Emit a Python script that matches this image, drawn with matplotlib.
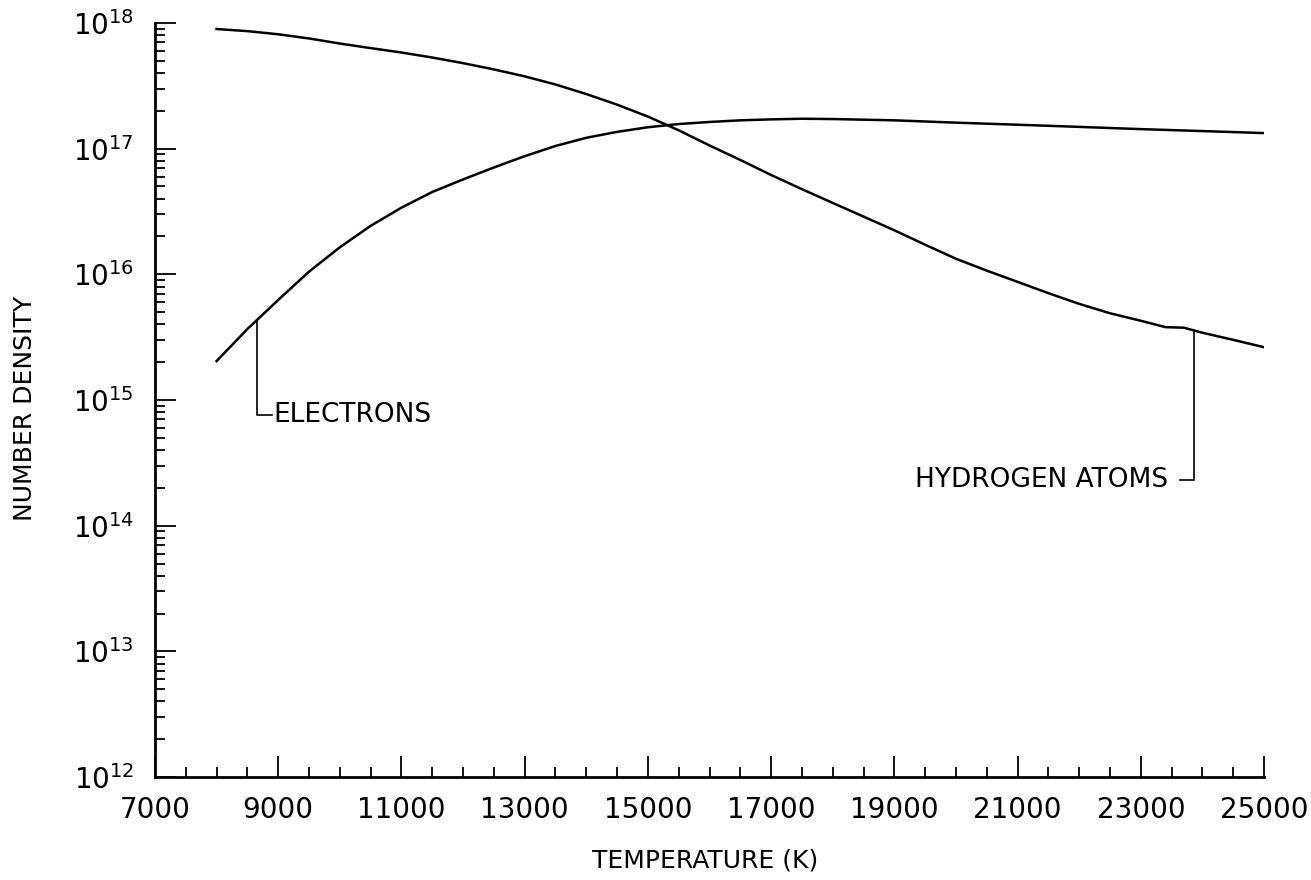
import numpy as np
import matplotlib
matplotlib.use("Agg")
import matplotlib.pyplot as plt
from matplotlib.ticker import FixedLocator, MultipleLocator, LogLocator, NullFormatter

plt.rcParams['font.family'] = ['DejaVu Sans']
plt.rcParams['mathtext.fontset'] = 'dejavusans'

# number densities (per unit volume) against temperature
temp_e = [8000, 8500, 9000, 9500, 10000, 10500, 11000, 11500, 12000, 12500,
          13000, 13500, 14000, 14500, 15000, 15500, 16000, 16500, 17000, 17500,
          18000, 19000, 20000, 21000, 22000, 23000, 24000, 25000]
n_electrons = [2.04e15, 3.67e15, 6.25e15, 1.05e16, 1.64e16, 2.43e16, 3.39e16,
               4.52e16, 5.69e16, 7.08e16, 8.71e16, 1.05e17, 1.22e17, 1.36e17,
               1.48e17, 1.57e17, 1.63e17, 1.68e17, 1.71e17, 1.73e17, 1.72e17,
               1.68e17, 1.61e17, 1.55e17, 1.49e17, 1.43e17, 1.38e17, 1.33e17]

temp_h = [8000, 8500, 9000, 9500, 10000, 10500, 11000, 11500, 12000, 12500,
          13000, 13500, 14000, 14500, 15000, 15500, 16000, 16500, 17000, 17500,
          18000, 18500, 19000, 19500, 20000, 20500, 21000, 21500, 22000, 22500,
          23000, 23400, 23700, 24000, 24500, 25000]
n_hydrogen = [8.95e17, 8.61e17, 8.13e17, 7.53e17, 6.86e17, 6.31e17, 5.82e17,
              5.31e17, 4.79e17, 4.27e17, 3.76e17, 3.24e17, 2.72e17, 2.24e17,
              1.80e17, 1.40e17, 1.06e17, 8.13e16, 6.17e16, 4.76e16, 3.70e16,
              2.88e16, 2.24e16, 1.72e16, 1.33e16, 1.07e16, 8.71e15, 7.08e15,
              5.82e15, 4.90e15, 4.27e15, 3.80e15, 3.76e15, 3.43e15, 3.01e15,
              2.63e15]

xticks = [7000, 9000, 11000, 13000, 15000, 17000, 19000, 21000, 23000, 25000]
yticks = [1e12, 1e13, 1e14, 1e15, 1e16, 1e17, 1e18]


def curve_at(t, temps, vals):
    return 10 ** np.interp(t, temps, np.log10(vals))


fig = plt.figure(figsize=(13.11, 8.8), dpi=100)
ax = fig.add_axes([0.1182, 0.117, 0.846, 0.8569])

ax.plot(temp_e, n_electrons, color='black', lw=1.8)
ax.plot(temp_h, n_hydrogen, color='black', lw=1.8)

ax.set_yscale('log')
ax.set_xlim(7000, 25000)
ax.set_ylim(1e12, 1e18)

for s in ['top', 'right']:
    ax.spines[s].set_visible(False)
for s in ['left', 'bottom']:
    ax.spines[s].set_linewidth(2)

ax.xaxis.set_major_locator(FixedLocator(xticks))
ax.xaxis.set_minor_locator(MultipleLocator(500))
ax.yaxis.set_major_locator(FixedLocator(yticks))
ax.yaxis.set_minor_locator(LogLocator(base=10, subs=np.arange(2, 10), numticks=20))
ax.yaxis.set_minor_formatter(NullFormatter())
ax.set_xticklabels([str(t) for t in xticks])
ax.set_yticklabels([r'$10^{%d}$' % int(np.log10(v)) for v in yticks])

ax.tick_params(which='major', direction='in', length=15, width=1.3, labelsize=20)
ax.tick_params(which='minor', direction='in', length=7, width=1.3)
ax.tick_params(axis='x', which='major', pad=14)
ax.tick_params(axis='y', which='major', pad=15)

# leader lines for the curve labels
t_e, drop_e, hook_e = 8650, 7.6e14, 8900
y_e = curve_at(t_e, temp_e, n_electrons)
ax.plot([t_e, t_e, hook_e], [y_e, drop_e, drop_e], color='black', lw=1.2)
ax.text(hook_e + 20, drop_e, 'ELECTRONS', fontsize=19, va='center', ha='left')

t_h, drop_h, hook_h = 23870, 2.3e14, 23640
y_h = curve_at(t_h, temp_h, n_hydrogen)
ax.plot([t_h, t_h, hook_h], [y_h, drop_h, drop_h], color='black', lw=1.2)
ax.text(hook_h - 200, drop_h, 'HYDROGEN ATOMS', fontsize=19, va='center', ha='right')

fig.text(705 / 1311, 1 - 860 / 880, 'TEMPERATURE (K)', fontsize=18,
         ha='center', va='center')
fig.text(25 / 1311, 1 - 408 / 880, 'NUMBER DENSITY', fontsize=18,
         rotation=90, ha='center', va='center')

fig.savefig('out.png', dpi=100)
